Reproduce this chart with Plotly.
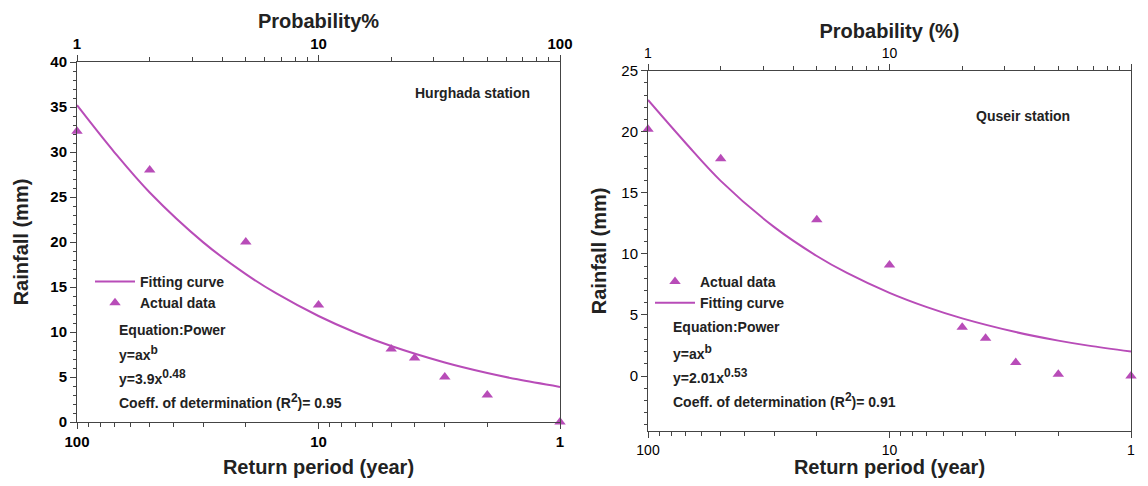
import plotly.graph_objects as go

# ---------------- data ----------------
return_period = [100, 50, 20, 10, 5, 4, 3, 2, 1]
hurghada_rain = [32.3, 28.0, 20.0, 13.0, 8.1, 7.1, 5.0, 3.0, 0.0]
quseir_rain = [20.2, 17.8, 12.8, 9.1, 4.0, 3.1, 1.1, 0.15, 0.0]

fit_period = [1, 1.5, 2, 3, 5, 7, 10, 15, 20, 30, 50, 70, 100]
hurghada_fit = [3.9, 4.74, 5.44, 6.61, 8.44, 9.92, 11.78, 14.31, 16.43, 19.96, 25.5, 29.97, 35.2]
quseir_fit = [2.01, 2.49, 2.9, 3.6, 4.72, 5.64, 6.81, 8.44, 9.83, 12.19, 15.98, 19.1, 22.6]

return_ticks = [100, 10, 1]
prob_ticks = [1, 10, 100]
minor_log_ticks = [2, 3, 4, 5, 6, 7, 8, 9, 20, 30, 40, 50, 60, 70, 80, 90]

# ---------------- styling ----------------
PAGE_MARGIN = 8  # default body margin of the html page
W, H = 1148 - 2 * PAGE_MARGIN, 486 - 2 * PAGE_MARGIN
PURPLE = "#b84cb8"
AX = "#444444"
FONT = "Liberation Sans"


def px(x):
    return (x - PAGE_MARGIN) / W


def py(y):
    return (H - (y - PAGE_MARGIN)) / H


fig = go.Figure()

# Left panel (Hurghada)
fig.add_trace(go.Scatter(x=fit_period, y=hurghada_fit, mode="lines", name="Fitting curve",
                         line=dict(color=PURPLE, width=2, shape="spline"),
                         xaxis="x", yaxis="y", legend="legend", cliponaxis=False))
fig.add_trace(go.Scatter(x=return_period, y=hurghada_rain, mode="markers", name="Actual data",
                         marker=dict(symbol="triangle-up", size=10, color=PURPLE),
                         xaxis="x", yaxis="y", legend="legend", cliponaxis=False))
fig.add_trace(go.Scatter(x=prob_ticks, y=[0, 0, 0], mode="markers", showlegend=False,
                         marker=dict(opacity=0), hoverinfo="skip", xaxis="x2", yaxis="y"))

# Right panel (Quseir)
fig.add_trace(go.Scatter(x=return_period, y=quseir_rain, mode="markers", name="Actual data",
                         marker=dict(symbol="triangle-up", size=10, color=PURPLE),
                         xaxis="x3", yaxis="y2", legend="legend2", cliponaxis=False))
fig.add_trace(go.Scatter(x=fit_period, y=quseir_fit, mode="lines", name="Fitting curve",
                         line=dict(color=PURPLE, width=2, shape="spline"),
                         xaxis="x3", yaxis="y2", legend="legend2", cliponaxis=False))
fig.add_trace(go.Scatter(x=prob_ticks, y=[0, 0, 0], mode="markers", showlegend=False,
                         marker=dict(opacity=0), hoverinfo="skip", xaxis="x4", yaxis="y2"))

L_dom_x = [px(77), px(560)]
L_dom_y = [py(422), py(62)]
R_dom_x = [px(648), px(1131)]
R_dom_y = [py(431), py(70.7)]


def log_axis(dom, anchor, rng, side, title, bold_ticks, overlaying=None, standoff=8, tsize=15):
    d = dict(
        type="log", domain=dom, anchor=anchor, range=rng, side=side,
        tickvals=return_ticks if side == "bottom" else prob_ticks,
        ticks="outside", ticklen=6, tickwidth=1, tickcolor=AX,
        minor=dict(tickvals=minor_log_ticks, ticks="outside", ticklen=4, tickwidth=1, tickcolor=AX),
        showline=True, linecolor=AX, linewidth=1, showgrid=False, zeroline=False,
        tickfont=dict(family=FONT, size=tsize, color="black", weight="bold" if bold_ticks else "normal"),
        title=dict(text=title, font=dict(family=FONT, size=20, color="#222", weight="bold"),
                   standoff=standoff),
        automargin=False,
    )
    if overlaying:
        d["overlaying"] = overlaying
    else:
        d["mirror"] = True
    return d


fig.update_layout(
    width=W, height=H,
    margin=dict(l=0, r=0, t=0, b=0),
    paper_bgcolor="white", plot_bgcolor="white",
    font=dict(family=FONT, color="black"),
    xaxis=log_axis(L_dom_x, "y", [2, 0], "bottom", "Return period (year)", True, standoff=12),
    xaxis2=log_axis(L_dom_x, "y", [0, 2], "top", "Probability%", True, overlaying="x", standoff=1),
    xaxis3=log_axis(R_dom_x, "y2", [2, 0], "bottom", "Return period (year)", False, standoff=5, tsize=14),
    xaxis4=log_axis(R_dom_x, "y2", [0, 2], "top", "Probability (%)", False, overlaying="x3",
                    standoff=1, tsize=14),
    yaxis=dict(
        domain=L_dom_y, anchor="x", range=[0, 40], dtick=5, tick0=0,
        ticks="outside", ticklen=6, tickcolor=AX,
        minor=dict(dtick=1, tick0=0, ticks="outside", ticklen=3, tickcolor=AX),
        showline=True, linecolor=AX, mirror=True, showgrid=False, zeroline=False,
        tickfont=dict(family=FONT, size=15, color="black", weight="bold"),
        title=dict(text="Rainfall (mm)", font=dict(family=FONT, size=20, color="#222", weight="bold"),
                   standoff=16),
        automargin=False,
    ),
    yaxis2=dict(
        domain=R_dom_y, anchor="x3", range=[-4.5, 25], tickvals=[0, 5, 10, 15, 20, 25],
        ticks="outside", ticklen=6, tickcolor=AX,
        minor=dict(dtick=1, tick0=0, ticks="outside", ticklen=3, tickcolor=AX),
        showline=True, linecolor=AX, mirror=True, showgrid=False, zeroline=False,
        tickfont=dict(family=FONT, size=15, color="black"),
        title=dict(text="Rainfall (mm)", font=dict(family=FONT, size=20, color="#222", weight="bold"),
                   standoff=9),
        automargin=False,
    ),
    legend=dict(x=px(90), y=py(266), xanchor="left", yanchor="top",
                bgcolor="rgba(0,0,0,0)", font=dict(family=FONT, size=14, color="#222", weight="bold"),
                tracegroupgap=0, itemwidth=40),
    legend2=dict(x=px(650), y=py(266), xanchor="left", yanchor="top",
                 bgcolor="rgba(0,0,0,0)", font=dict(family=FONT, size=14, color="#222", weight="bold"),
                 tracegroupgap=0, itemwidth=40),
    showlegend=True,
)

ann_font = dict(family=FONT, size=14, color="#222", weight="bold")


def sup(s):
    return "<sup><span style='font-size:12px'>" + s + "</span></sup>"


left_lines = ["Equation:Power", "y=ax" + sup("b"), "y=3.9x" + sup("0.48"),
              "Coeff. of determination (R" + sup("2") + ")= 0.95"]
left_ys = [330, 353, 377, 401]
for t, yy in zip(left_lines, left_ys):
    fig.add_annotation(text=t, x=px(117), y=py(yy), xref="paper", yref="paper",
                       xanchor="left", yanchor="middle", showarrow=False, font=ann_font)

right_lines = ["Equation:Power", "y=ax" + sup("b"), "y=2.01x" + sup("0.53"),
               "Coeff. of determination (R" + sup("2") + ")= 0.91"]
right_ys = [327, 352, 376, 400]
for t, yy in zip(right_lines, right_ys):
    fig.add_annotation(text=t, x=px(671), y=py(yy), xref="paper", yref="paper",
                       xanchor="left", yanchor="middle", showarrow=False, font=ann_font)

fig.add_annotation(text="Hurghada station", x=px(472), y=py(93), xref="paper", yref="paper",
                   xanchor="center", yanchor="middle", showarrow=False, font=ann_font)
fig.add_annotation(text="Quseir station", x=px(1023), y=py(116), xref="paper", yref="paper",
                   xanchor="center", yanchor="middle", showarrow=False, font=ann_font)

fig.write_html("out.html")
